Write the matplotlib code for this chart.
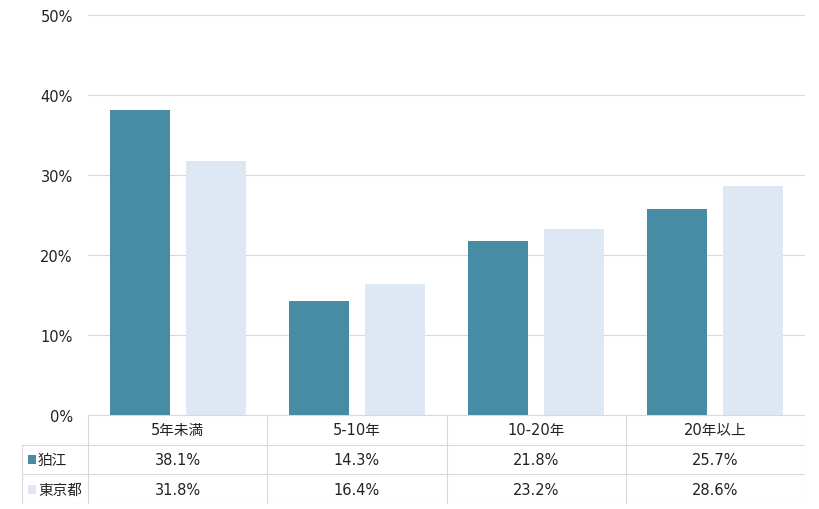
import numpy as np
import matplotlib
matplotlib.use('Agg')
import matplotlib.pyplot as plt
from matplotlib.patches import Rectangle

plt.rcParams['font.family'] = ['DejaVu Sans', 'Noto Sans CJK JP']

# --- data ---
categories = ['5年未満', '5-10年', '10-20年', '20年以上']
series_names = ['狛江', '東京都']
komae = [38.1, 14.3, 21.8, 25.7]
tokyo = [31.8, 16.4, 23.2, 28.6]
y_ticks = [0, 10, 20, 30, 40, 50]

colors = ['#458CA4', '#DDE8F4']
grid_c = '#D9D9D9'
text_c = '#222222'
fs = 10.5

W, H = 820, 510
fig = plt.figure(figsize=(W / 100, H / 100), dpi=100)

# main plot area (pixels -> figure fraction)
ax = fig.add_axes([88 / W, (H - 416) / H, (805 - 88) / W, 400 / H])
x = np.arange(len(categories))
bw = 0.335
off = 0.212
ax.bar(x - off, komae, bw, color=colors[0], zorder=3)
ax.bar(x + off, tokyo, bw, color=colors[1], zorder=3)
ax.set_xlim(-0.5, len(categories) - 0.5)
ax.set_ylim(0, 50)
ax.set_yticks(y_ticks)
ax.set_yticklabels([f'{t}%' for t in y_ticks], fontsize=fs, color=text_c)
ax.set_xticks([])
ax.grid(axis='y', color=grid_c, linewidth=0.8, zorder=0)
for s in ax.spines.values():
    s.set_visible(False)
ax.tick_params(axis='y', length=0, pad=11)

# --- data table below ---
leg_w = 66 / 179.25
tax = fig.add_axes([22 / W, (H - 505) / H, (805 - 22) / W, 89 / H])
tax.set_xlim(-0.5 - leg_w, len(categories) - 0.5)
tax.set_ylim(3, 0)
tax.axis('off')
left = -0.5 - leg_w
right = len(categories) - 0.5
lw = 0.8
# horizontal lines
tax.plot([-0.5, right], [0, 0], color=grid_c, lw=lw)
for r in [1, 2, 3]:
    tax.plot([left, right], [r, r], color=grid_c, lw=lw)
# vertical lines
tax.plot([left, left], [1, 3], color=grid_c, lw=lw)
for c in range(len(categories) + 1):
    tax.plot([c - 0.5, c - 0.5], [0, 3], color=grid_c, lw=lw)

for i, cat in enumerate(categories):
    tax.text(i, 0.5, cat, ha='center', va='center', fontsize=fs, color=text_c)
for r, (vals, name, col) in enumerate(zip([komae, tokyo], series_names, colors)):
    for i, v in enumerate(vals):
        tax.text(i, r + 1.5, f'{v:.1f}%', ha='center', va='center', fontsize=fs, color=text_c)
    tax.add_patch(Rectangle((left + 0.033, r + 1.35), 0.045, 0.3, color=col, lw=0))
    tax.text(left + 0.089, r + 1.5, name, ha='left', va='center', fontsize=fs, color=text_c)

fig.savefig('out.png', dpi=100)
